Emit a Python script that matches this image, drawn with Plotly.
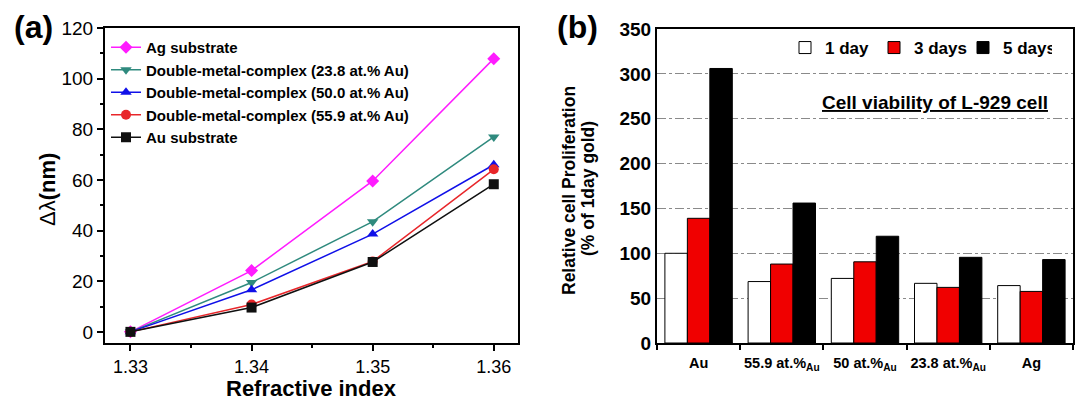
import plotly.graph_objects as go

# ---------------- Panel (a) data ----------------
refractive_index = [1.33, 1.34, 1.35, 1.36]
ag_substrate = [0, 24.2, 59.6, 107.9]
dmc_23_8 = [0, 19.5, 43.5, 77.0]
dmc_50_0 = [0, 16.6, 38.6, 66.0]
dmc_55_9 = [0, 10.8, 27.8, 64.2]
au_substrate = [0, 9.6, 27.6, 58.3]

line_names = [
    "Ag substrate",
    "Double-metal-complex (23.8 at.% Au)",
    "Double-metal-complex (50.0 at.% Au)",
    "Double-metal-complex (55.9 at.% Au)",
    "Au substrate",
]
line_values = [ag_substrate, dmc_23_8, dmc_50_0, dmc_55_9, au_substrate]
line_colors = ["#ff1cff", "#2f8a7e", "#1010e8", "#e8262a", "#101010"]
line_symbols = ["diamond", "triangle-down", "triangle-up", "circle", "square"]

# ---------------- Panel (b) data ----------------
samples = ["Au", "55.9 at.%Au", "50 at.%Au", "23.8 at.%Au", "Ag"]
sample_labels = ["Au", "55.9 at.%<sub>Au</sub>", "50 at.%<sub>Au</sub>",
                 "23.8 at.%<sub>Au</sub>", "Ag"]
day1 = [100, 68.5, 72, 66.5, 64]
day3 = [139, 88, 90.5, 62, 57.5]
day5 = [306, 156, 119, 95.5, 93]
bar_names = ["1 day", "3 days", "5 days"]
bar_values = [day1, day3, day5]
bar_colors = ["#ffffff", "#f00000", "#000000"]

FONT = "Liberation Sans, Arial, sans-serif"
W, H = 1075, 400

fig = go.Figure()

for name, vals, col, sym in zip(line_names, line_values, line_colors, line_symbols):
    fig.add_trace(go.Scatter(
        x=refractive_index, y=vals, name=name, mode="lines+markers",
        line=dict(color=col, width=1.5),
        marker=dict(symbol=sym, size=10, color=col),
        xaxis="x", yaxis="y", legend="legend",
    ))

for name, vals, col in zip(bar_names, bar_values, bar_colors):
    fig.add_trace(go.Bar(
        x=samples, y=vals, name=name,
        marker=dict(color=col, line=dict(color="#000000", width=1)),
        xaxis="x2", yaxis="y2", legend="legend2",
    ))

def px_x(p):
    return p / W

def px_y(p):
    return 1 - p / H

fig.update_layout(
    width=W, height=H,
    margin=dict(l=0, r=0, t=0, b=0, autoexpand=False),
    paper_bgcolor="white", plot_bgcolor="white",
    font=dict(family=FONT, color="black"),
    barmode="group", bargap=0.19, bargroupgap=0,
    xaxis=dict(
        domain=[px_x(105), px_x(518)], anchor="y",
        range=[1.3279, 1.3620], tickvals=refractive_index, tickformat=".2f",
        ticks="outside", ticklen=6, tickwidth=1.5, tickcolor="black",
        minor=dict(ticks="outside", ticklen=3, tickwidth=1.5, dtick=0.005, tick0=1.33, tickcolor="black"),
        showline=True, linewidth=2, linecolor="black", mirror=True,
        showgrid=False, zeroline=False,
        tickfont=dict(size=18, family=FONT),
    ),
    yaxis=dict(
        domain=[px_y(343), px_y(28)], anchor="x",
        range=[-4.4, 120], dtick=20,
        ticks="outside", ticklen=6, tickwidth=1.5, tickcolor="black",
        minor=dict(ticks="outside", ticklen=3, tickwidth=1.5, dtick=10, tickcolor="black"),
        showline=True, linewidth=2, linecolor="black", mirror=True,
        showgrid=False, zeroline=False,
        tickfont=dict(size=19, family=FONT),
    ),
    xaxis2=dict(
        domain=[px_x(657), px_x(1073)], anchor="y2",
        type="category", tickvals=samples, ticktext=sample_labels,
        tickson="boundaries", ticks="outside", ticklen=5, tickwidth=2, tickcolor="black",
        ticklabelstandoff=6, tickangle=0,
        showline=True, linewidth=2, linecolor="black", mirror=True,
        showgrid=False, zeroline=False,
        tickfont=dict(size=14.5, family=FONT, weight="bold"),
    ),
    yaxis2=dict(
        domain=[px_y(343), px_y(29)], anchor="x2",
        range=[0, 350], dtick=50,
        ticks="",
        showline=True, linewidth=2, linecolor="black", mirror=True,
        showgrid=True, gridcolor="#8a8a8a", gridwidth=1, griddash="dashdot",
        zeroline=False,
        tickfont=dict(size=19, family=FONT, weight="bold"),
    ),
    legend=dict(
        x=px_x(106), y=px_y(31), xanchor="left", yanchor="top",
        bgcolor="rgba(0,0,0,0)", borderwidth=0,
        font=dict(size=15, family=FONT, weight="bold"),
        tracegroupgap=0, itemwidth=30,
    ),
    legend2=dict(
        orientation="h",
        x=px_x(785), y=px_y(48), xanchor="left", yanchor="middle",
        bgcolor="rgba(0,0,0,0)", borderwidth=0,
        font=dict(size=17, family=FONT, weight="bold"),
        itemwidth=30, entrywidth=44, entrywidthmode="pixels",
    ),
    showlegend=True,
)

annotations = [
    dict(text="<b>(a)</b>", x=px_x(33), y=px_y(27), font=dict(size=32)),
    dict(text="<b>(b)</b>", x=px_x(577), y=px_y(27), font=dict(size=32)),
    dict(text="Δλ<b>(nm)</b>", x=px_x(47), y=px_y(190), textangle=-90, font=dict(size=22)),
    dict(text="<b>Refractive index</b>", x=px_x(311), y=px_y(388), font=dict(size=22)),
    dict(text="<b>Relative cell Proliferation</b>", x=px_x(569), y=px_y(191),
         textangle=-90, font=dict(size=17.5)),
    dict(text="<b>(% of 1day gold)</b>", x=px_x(588), y=px_y(189),
         textangle=-90, font=dict(size=17.5)),
    dict(text="<b><u>Cell viability of L-929 cell</u></b>", x=px_x(935), y=px_y(102), font=dict(size=19)),
]
for a in annotations:
    a.update(xref="paper", yref="paper", showarrow=False, xanchor="center", yanchor="middle")
    a["font"].update(family=FONT, color="black")
fig.update_layout(annotations=annotations)

fig.write_html(
    "out.html",
    config={"displayModeBar": False},
    post_script="document.body.style.margin='0';document.body.style.overflow='hidden';",
)
